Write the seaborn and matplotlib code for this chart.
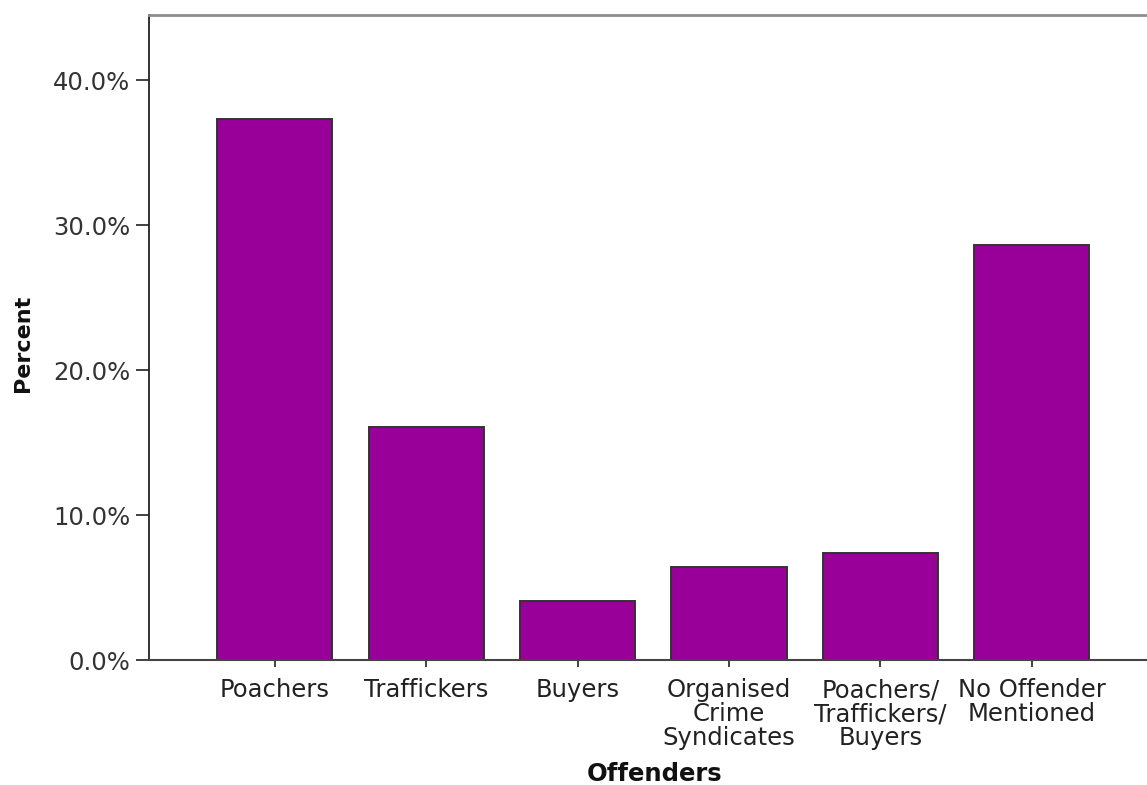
import matplotlib
matplotlib.use("Agg")
import matplotlib.pyplot as plt
import seaborn as sns
import pandas as pd
from matplotlib.ticker import FuncFormatter

categories = ["Poachers", "Traffickers", "Buyers",
              "Organised\nCrime\nSyndicates", "Poachers/\nTraffickers/\nBuyers",
              "No Offender\nMentioned"]
percent = [37.3, 16.1, 4.1, 6.4, 7.4, 28.6]
yticks = [0, 10, 20, 30, 40]

df = pd.DataFrame({"Offenders": categories, "Percent": percent})

sns.set_theme(style="white")
plt.rcParams['font.family'] = ['DejaVu Sans']

fig = plt.figure(figsize=(11.47, 7.85), dpi=100)
ax = fig.add_axes([149/1147, 1 - 660/785, 1 - 149/1147, (660 - 15)/785])

sns.barplot(data=df, x="Offenders", y="Percent", color="#990099",
            saturation=1, width=0.76, edgecolor="#333333", linewidth=1.4, ax=ax)

ax.set_xlim(-0.83, 5.76)
ax.set_ylim(0, 44.5)
ax.set_yticks(yticks)
ax.yaxis.set_major_formatter(FuncFormatter(lambda v, p: f"{v:.1f}%"))

ax.spines["right"].set_visible(False)
ax.spines["top"].set_color("#8c8c8c")
ax.spines["top"].set_linewidth(2.0)
ax.spines["left"].set_color("#222222")
ax.spines["left"].set_linewidth(1.3)
ax.spines["bottom"].set_color("#444444")
ax.spines["bottom"].set_linewidth(1.5)

ax.tick_params(axis="y", direction="out", length=9.5, width=1.3, color="#333333",
               labelsize=17.5, labelcolor="#333333", pad=4, left=True)
ax.tick_params(axis="x", direction="out", length=5, width=1.3, color="#333333",
               labelsize=17.5, labelcolor="#222222", pad=8, bottom=True)
for lbl in ax.get_xticklabels():
    lbl.set_linespacing(1.0)
    lbl.set_ha("center")

ax.set_xlabel("Offenders", fontsize=17.5, fontweight="bold", color="#111111")
ax.set_ylabel("Percent", fontsize=16, fontweight="bold", color="#111111")
ax.xaxis.set_label_coords((655 - 149) / (1147 - 149), -(781 - 660) / (660 - 15))
ax.xaxis.label.set_va("baseline")
ax.yaxis.set_label_coords(-(149 - 33) / (1147 - 149), 1 - (343 - 15) / (660 - 15))

fig.savefig("out.png", dpi=100)
